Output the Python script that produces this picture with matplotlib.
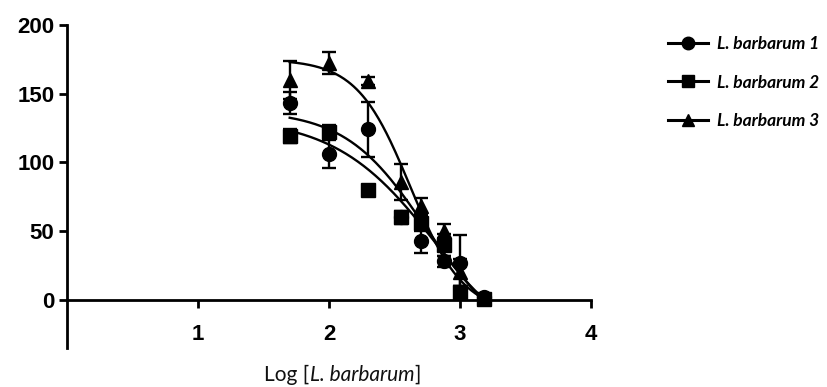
import numpy as np
import matplotlib
matplotlib.use("Agg")
import matplotlib.pyplot as plt

# ---- data ----
log_conc = [1.7, 2.0, 2.3, 2.55, 2.7, 2.88, 3.0, 3.18]

s1_vals = [143, 106, 124, 60, 43, 28, 27, 2]
s1_err = [8, 10, 20, 5, 9, 4, 20, 2]
s2_vals = [119, 122, 80, 60, 56, 40, 6, 1]
s2_err = [5, 5, 3, 4, 6, 8, 4, 1]
s3_vals = [160, 172, 159, 86, 68, 50, 20, 2]
s3_err = [14, 8, 3, 13, 6, 5, 10, 2]

labels = ["L. barbarum 1", "L. barbarum 2", "L. barbarum 3"]
markers = ["o", "s", "^"]

# fitted dose-response curves (bottom, top, logIC50, hill)
fit_s1 = [-60, 133, 2.854, 1.097]
fit_s2 = [-30, 138, 2.729, 1.43]
fit_s3 = [-10, 175, 2.62, 2.14]
fit_range = [1.7, 3.2]

x_ticks = [1, 2, 3, 4]
y_ticks = [0, 50, 100, 150, 200]
x_label_parts = ["Log [", "L. barbarum", "]"]


def logistic(x, p):
    b, t, c, h = p
    return b + (t - b) / (1 + 10 ** ((x - c) * h))


fig = plt.figure(figsize=(8.27, 3.87), dpi=100)
ax = fig.add_axes([67 / 827, 1 - 348 / 387, 524 / 827, (348 - 25) / 387])

series = [(s1_vals, s1_err, fit_s1), (s2_vals, s2_err, fit_s2), (s3_vals, s3_err, fit_s3)]
xf = np.linspace(fit_range[0], fit_range[1], 200)
handles = []
for (vals, err, fit), mk, lab in zip(series, markers, labels):
    ax.plot(xf, logistic(xf, fit), color="black", lw=1.7, zorder=2)
    ax.errorbar(log_conc, vals, yerr=err, fmt="none", ecolor="black",
                elinewidth=1.7, capsize=5, capthick=1.7, zorder=3)
    ax.plot(log_conc, vals, ls="none", marker=mk, ms=10, color="black", zorder=4)
    h, = ax.plot([], [], color="black", lw=2.2, marker=mk, ms=9, label=lab)
    handles.append(h)

ax.set_xlim(0, 4)
ax.set_ylim(-35, 200)
ax.spines["top"].set_visible(False)
ax.spines["right"].set_visible(False)
ax.spines["bottom"].set_position(("data", 0))
ax.spines["left"].set_linewidth(2.0)
ax.spines["bottom"].set_linewidth(2.0)
ax.set_xticks(x_ticks)
ax.set_yticks(y_ticks)
ax.tick_params(axis="x", direction="out", length=6, width=2.0, pad=11)
ax.tick_params(axis="y", direction="out", length=6, width=2.0, pad=3)
for lab in ax.get_xticklabels() + ax.get_yticklabels():
    lab.set_fontfamily("Liberation Sans")
    lab.set_fontweight("bold")
    lab.set_fontsize(16)

# x label with italic part
lx = 342.5 / 827
ly = 1 - 375 / 387
t1 = fig.text(0, ly, x_label_parts[0], fontfamily="Lato", fontsize=15, va="center", color="#111111")
t2 = fig.text(0, ly, x_label_parts[1], fontfamily="Lato", fontsize=15, va="center", style="italic", color="#111111")
t3 = fig.text(0, ly, x_label_parts[2], fontfamily="Lato", fontsize=15, va="center", color="#111111")
fig.canvas.draw()
r = fig.canvas.get_renderer()
w = [t.get_window_extent(r).width for t in (t1, t2, t3)]
tot = sum(w)
start = lx * 827 - tot / 2
pos = start
for t, wi in zip((t1, t2, t3), w):
    t.set_x(pos / 827)
    pos += wi

leg = fig.legend(handles=handles, loc="upper left", bbox_to_anchor=(668 / 827, 1 - 36 / 387),
                 frameon=False, borderpad=0, borderaxespad=0, handlelength=2.3,
                 handletextpad=0.5, labelspacing=1.3,
                 prop={"family": "Lato", "weight": "bold", "style": "italic", "size": 12.5})

fig.savefig("out.png", dpi=100)
